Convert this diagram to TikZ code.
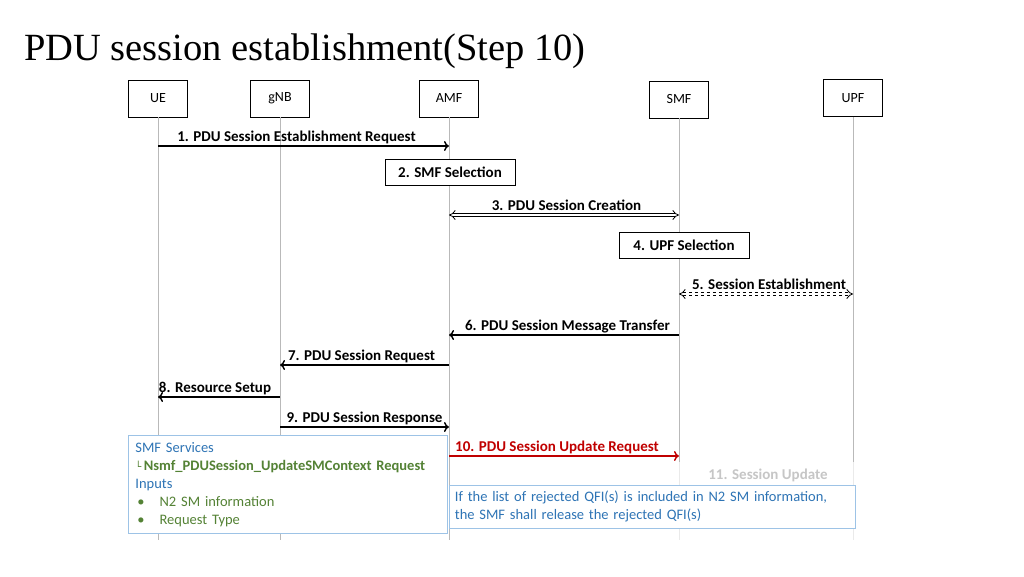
\documentclass[tikz,border=0pt]{standalone}
\usepackage{fontspec}
\setmainfont{Carlito}
\newfontfamily\titlefont{Liberation Serif}
\newfontfamily\symfont{DejaVu Sans}
\usetikzlibrary{arrows.meta}
\definecolor{boxblue}{HTML}{2E74B5}
\definecolor{boxgreen}{HTML}{548235}
\definecolor{stepred}{HTML}{C00000}
\definecolor{frameblue}{HTML}{9DC3E6}
\tikzset{
  entity/.style={draw, thick, fill=white, minimum width=59pt, minimum height=37pt, font=\fontsize{14}{16}\selectfont},
  lifeline/.style={gray!55, line width=0.8pt},
  msg/.style={line width=1.4pt, -{To[length=5pt,width=10pt]}},
  msglabel/.style={above, inner sep=1.5pt, font=\bfseries\fontsize{15}{17}\selectfont},
  action/.style={draw, thick, fill=white, minimum height=26pt, font=\bfseries\fontsize{15}{17}\selectfont},
  biarrow/.style={draw=black, line width=0.8pt, double=white, double distance=2.6pt, {Implies}-{Implies}},
  note/.style={draw=frameblue, thick, fill=white, align=left, anchor=north west, font=\fontsize{14.5}{18}\selectfont}
}
\begin{document}
\begin{tikzpicture}[x=1pt, y=-1pt]
\useasboundingbox (0,0) rectangle (1024,576);
\node[anchor=base west, inner sep=0pt, font=\titlefont\fontsize{38.5}{40}\selectfont] (title) at (24,60) {PDU session establishment(Step 10)};

% entities
\node[entity] (ue) at (158,98.5) {UE};
\node[entity] (gnb) at (280,98.5) {gNB};
\node[entity] (amf) at (449,98.5) {AMF};
\node[entity] (smf) at (679,99.5) {SMF};
\node[entity] (upf) at (853,98) {UPF};

% lifelines
\foreach \e in {ue,gnb,amf,smf,upf}
  \draw[lifeline] (\e.south) -- (\e.south |- 0,540);

% messages
\draw[msg] (ue |- 0,146) -- node[msglabel, xshift=-7pt]{1. PDU Session Establishment Request} (amf |- 0,146);
\node[action, minimum width=130pt] (smfsel) at (450,172) {2. SMF Selection};
\draw[biarrow] (amf |- 0,215) -- node[msglabel, yshift=2pt, xshift=2.5pt]{3. PDU Session Creation} (smf |- 0,215);
\node[action, minimum width=130pt] (upfsel) at (684,245) {4. UPF Selection};
\draw[biarrow, dashed] (smf |- 0,294) -- node[msglabel, yshift=2pt, xshift=3pt]{5. Session Establishment} (upf |- 0,294);
\draw[msg] (smf |- 0,335) -- node[msglabel, xshift=3.5pt]{6. PDU Session Message Transfer} (amf |- 0,335);
\draw[msg] (amf |- 0,365) -- node[msglabel, xshift=-3pt]{7. PDU Session Request} (gnb |- 0,365);
\draw[msg] (gnb |- 0,397) -- node[msglabel, xshift=-4pt]{8. Resource Setup} (ue |- 0,397);
\draw[msg] (gnb |- 0,427) -- node[msglabel]{9. PDU Session Response} (amf |- 0,427);
\draw[msg, stepred] (amf |- 0,456) -- node[msglabel, xshift=-7pt, text=stepred]{10. PDU Session Update Request} (smf |- 0,456);

% faded remainder
\fill[white, opacity=0.7] (450,462) rectangle (858,545);
\node[font=\bfseries\fontsize{15}{17}\selectfont, text=gray!45] (upd) at (768,475) {11. Session Update};

% notes
\node[note, minimum width=317pt, minimum height=98pt, text width=305pt, inner xsep=7pt, inner ysep=5pt] (inputs) at (128,435) {%
\textcolor{boxblue}{SMF Services}\\
\textcolor{boxgreen}{{\symfont\fontsize{10}{10}\selectfont └}\,\textbf{Nsmf\_PDUSession\_UpdateSMContext Request}}\\
\textcolor{boxblue}{Inputs}\\
\hspace*{2pt}\textcolor{boxgreen}{\textbullet\hspace{15pt}N2 SM information}\\
\hspace*{2pt}\textcolor{boxgreen}{\textbullet\hspace{15pt}Request Type}};
\node[note, minimum width=406pt, minimum height=43pt, text width=395pt, text=boxblue] (release) at (449,485) {If the list of rejected QFI(s) is included in N2 SM information,\\the SMF shall release the rejected QFI(s)};
\end{tikzpicture}
\end{document}
